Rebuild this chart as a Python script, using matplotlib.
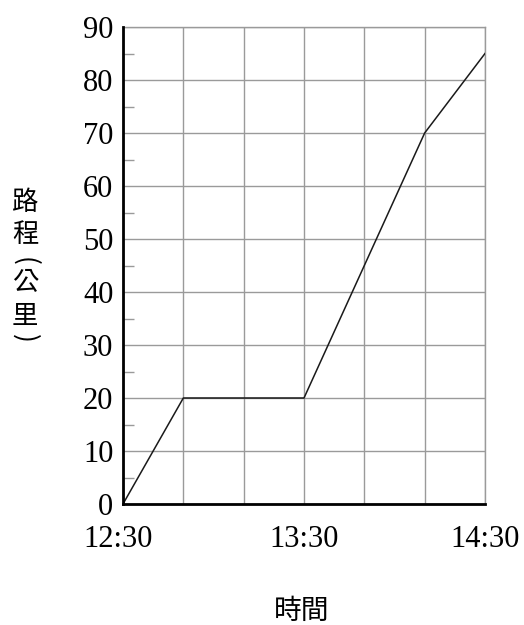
import matplotlib
matplotlib.use("Agg")
import matplotlib.pyplot as plt
import matplotlib.transforms as mtransforms
from matplotlib.ticker import MultipleLocator

# time points (HH:MM) and distance travelled (km)
times = ["12:30", "12:50", "13:30", "14:10", "14:30"]
distance = [0, 20, 20, 70, 85]

x_ticks = ["12:30", "12:50", "13:10", "13:30", "13:50", "14:10", "14:30"]
x_labels = ["12:30", "", "", "13:30", "", "", "14:30"]
y_ticks = [0, 10, 20, 30, 40, 50, 60, 70, 80, 90]

# y axis title, written top to bottom
ylabel_chars = ["路", "程", "(", "公", "里", ")"]
ylabel_y = [203, 235, 261, 283, 316, 338]   # pixel rows of each char


def to_min(t):
    h, m = t.split(":")
    return int(h) * 60 + int(m) - (12 * 60 + 30)


W, H = 524, 625
cjk = ["Noto Sans CJK TC", "DejaVu Sans"]
num_font = "Liberation Serif"

fig = plt.figure(figsize=(W / 100, H / 100), dpi=100)
ax = fig.add_axes([123 / W, 1 - 504 / H, 362 / W, 477 / H])

ax.plot([to_min(t) for t in times], distance, color="#1a1a1a", linewidth=1.1, zorder=3)

ax.set_xlim(0, 120)
ax.set_ylim(0, 90)
ax.set_xticks([to_min(t) for t in x_ticks])
ax.set_xticklabels(x_labels, fontfamily=num_font, fontsize=22)
ax.set_yticks(y_ticks)
ax.set_yticklabels([str(v) for v in y_ticks], fontfamily=num_font, fontsize=22)
ax.yaxis.set_minor_locator(MultipleLocator(5))

ax.grid(True, which="major", color="#9a9a9a", linewidth=1.0)
ax.tick_params(axis="both", which="major", length=0)
ax.tick_params(axis="x", pad=15)
ax.tick_params(axis="y", pad=7)
ax.tick_params(axis="y", which="minor", direction="in", length=8, width=1.0, color="#9a9a9a")

# first time label sits a little left of the corner
first = ax.get_xticklabels()[0]
first.set_transform(first.get_transform() +
                    mtransforms.ScaledTranslation(-5 / 100, 0, fig.dpi_scale_trans))

for side in ["top", "right"]:
    ax.spines[side].set_color("#9a9a9a")
    ax.spines[side].set_linewidth(1.0)
for side in ["left", "bottom"]:
    ax.spines[side].set_color("black")
    ax.spines[side].set_linewidth(2.0)
    ax.spines[side].set_zorder(4)

# vertical stacked y label; brackets turned to lie flat
for ch, py in zip(ylabel_chars, ylabel_y):
    rot = -90 if ch in "()" else 0
    fig.text(25 / W, 1 - py / H, ch, family=cjk, fontsize=19, rotation=rot,
             rotation_mode="anchor", ha="center", va="center")

fig.text(302 / W, 1 - 611 / H, "時間", family=cjk, fontsize=20, ha="center", va="center")

fig.savefig("out.png", dpi=100)
